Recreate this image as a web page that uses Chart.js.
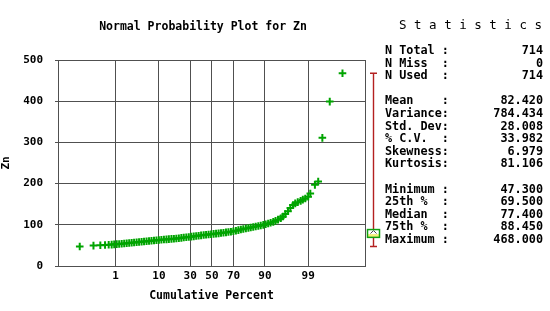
<!DOCTYPE html>
<html>
<head>
<meta charset="utf-8">
<script src="https://cdn.jsdelivr.net/npm/chart.js@4.4.0/dist/chart.umd.min.js"></script>
<style>
  body {margin: 0; background: #fff}
  #wrap {position: relative; width: 550px; height: 311px; overflow: hidden}
  #plot {position: absolute; left: 0; top: 0}
  .txt {position: absolute; font-family: 'DejaVu Sans Mono', monospace; color: #000; white-space: pre; line-height: 14px}
  #title {left: 0; top: 19px; width: 406px; text-align: center; font-size: 11.5px; font-weight: bold}
  #statsTitle {left: 399px; top: 18px; font-size: 12.5px}
  .lab {left: 385px; font-size: 11.8px; font-weight: bold}
  .val {right: 7px; font-size: 11.8px; font-weight: bold; text-align: right}
</style>
</head>
<body>
<div id="wrap">
  <canvas id="plot" width="550" height="311"></canvas>
  <div id="title" class="txt">Normal Probability Plot for Zn</div>
  <div id="statsTitle" class="txt">S t a t i s t i c s</div>
</div>
<script>
// cumulative percent (plotting position) and Zn value
const cumPercent = [0.07, 0.21, 0.35, 0.49, 0.63, 0.77, 0.91, 1.07, 1.25, 1.46, 1.70, 1.97, 2.28, 2.62, 3.0, 3.44,
  3.92, 4.46, 5.05, 5.71, 6.43, 7.21, 8.08, 9.01, 10.0, 11.1, 12.3, 13.6, 14.9, 16.4, 17.9, 19.5, 21.2, 23.0,
  24.8, 26.8, 28.8, 30.9, 33.0, 35.2, 37.4, 39.7, 42.1, 44.4, 46.8, 49.2, 51.6, 54.0, 56.4, 58.7, 61.0, 63.3,
  65.5, 67.7, 69.8, 71.9, 73.9, 75.8, 77.6, 79.4, 81.1, 82.6, 84.1, 85.5, 86.9, 88.1, 89.3, 90.3, 91.3, 92.2,
  93.1, 93.8, 94.5, 95.2, 95.7, 96.2, 96.7, 97.1, 97.5, 97.8, 98.1, 98.4, 98.6, 98.8, 99.0, 99.13, 99.36,
  99.49, 99.62, 99.78, 99.92]
const znValues = [47.3, 49.5, 50.3, 51, 51.5, 52, 52.5, 53, 53.5, 54, 54.7, 55.3, 56, 56.6, 57.2, 57.8,
  58.4, 59, 59.6, 60.2, 60.8, 61.4, 62, 62.6, 63.2, 63.7, 64.2, 64.7, 65.2, 65.8, 66.3, 66.9, 67.5, 68.2,
  69, 69.8, 70.5, 71.2, 72, 72.8, 73.6, 74.4, 75.2, 75.9, 76.6, 77.2, 77.9, 78.6, 79.3, 80, 80.8, 81.6,
  82.4, 83.3, 84.2, 85.5, 87, 88.6, 89.8, 91, 92.2, 93.4, 94.6, 95.8, 97, 98.3, 99.7, 101.3, 103, 105,
  107.2, 109.6, 112.5, 116, 120, 126, 133, 141, 148, 152, 155, 158, 161, 164, 168, 176, 197,
  205, 311, 399, 468]

const percentTicks = [1, 10, 30, 50, 70, 90, 99]
const yTicks = [0, 100, 200, 300, 400, 500]

const statLabels = ['N Total :', 'N Miss  :', 'N Used  :', '', 'Mean    :', 'Variance:', 'Std. Dev:', '% C.V.  :',
  'Skewness:', 'Kurtosis:', '', 'Minimum :', '25th %  :', 'Median  :', '75th %  :', 'Maximum :']
const statValues = ['714', '0', '714', '', '82.420', '784.434', '28.008', '33.982',
  '6.979', '81.106', '', '47.300', '69.500', '77.400', '88.450', '468.000']

// inverse normal cdf (Acklam)
function probit(p) {
  const a = [-39.69683028665376, 220.9460984245205, -275.9285104469687, 138.3577518672690, -30.66479806614716, 2.506628277459239]
  const b = [-54.47609879822406, 161.5858368580409, -155.6989798598866, 66.80131188771972, -13.28068155288572]
  const c = [-0.007784894002430293, -0.3223964580411365, -2.400758277161838, -2.549732539343734, 4.374664141464968, 2.938163982698783]
  const d = [0.007784695709041462, 0.3224671290700398, 2.445134137142996, 3.754408661907416]
  const tail = (q) => (((((c[0]*q+c[1])*q+c[2])*q+c[3])*q+c[4])*q+c[5]) / ((((d[0]*q+d[1])*q+d[2])*q+d[3])*q+1)
  if (p < 0.02425) return tail(Math.sqrt(-2 * Math.log(p)))
  if (p > 1 - 0.02425) return -tail(Math.sqrt(-2 * Math.log(1 - p)))
  const q = p - 0.5, r = q * q
  return (((((a[0]*r+a[1])*r+a[2])*r+a[3])*r+a[4])*r+a[5])*q / (((((b[0]*r+b[1])*r+b[2])*r+b[3])*r+b[4])*r+1)
}

const stat = (name) => parseFloat(statValues[statLabels.findIndex(l => l.startsWith(name))])

// stats panel text
const wrap = document.getElementById('wrap')
let rowY = 43
statLabels.forEach((lab, i) => {
  if (lab) {
    const l = document.createElement('div')
    l.className = 'txt lab'
    l.style.top = rowY + 'px'
    l.textContent = lab
    wrap.appendChild(l)
    const v = document.createElement('div')
    v.className = 'txt val'
    v.style.top = rowY + 'px'
    v.textContent = statValues[i]
    wrap.appendChild(v)
  }
  rowY += 12.6
})

const frameAndBox = {
  id: 'frameAndBox',
  afterDraw(chart) {
    const {ctx, chartArea: ca} = chart
    const y = chart.scales.y
    ctx.save()
    ctx.strokeStyle = '#505050'
    ctx.lineWidth = 1
    ctx.strokeRect(Math.round(ca.left) + 0.5, Math.round(ca.top) + 0.5, Math.round(ca.right - ca.left), Math.round(ca.bottom - ca.top))

    // box plot to the right of the plot
    const cx = Math.round(ca.right) + 8.5
    const yMax = y.getPixelForValue(stat('Maximum'))
    const yMin = y.getPixelForValue(stat('Minimum'))
    const yQ1 = y.getPixelForValue(stat('25th'))
    const yQ3 = y.getPixelForValue(stat('75th'))
    const yMed = y.getPixelForValue(stat('Median'))
    const yMean = y.getPixelForValue(stat('Mean'))
    ctx.strokeStyle = '#b42020'
    ctx.lineWidth = 1.4
    ctx.beginPath()
    ctx.moveTo(cx, yMax); ctx.lineTo(cx, yQ3)
    ctx.moveTo(cx, yQ1); ctx.lineTo(cx, yMin)
    ctx.moveTo(cx - 3.5, yMax); ctx.lineTo(cx + 3.5, yMax)
    ctx.moveTo(cx - 3.5, yMin); ctx.lineTo(cx + 3.5, yMin)
    ctx.stroke()
    ctx.fillStyle = '#fff'
    ctx.fillRect(cx - 6, yQ3, 12, yQ1 - yQ3)
    ctx.fillStyle = '#f4f07a'
    ctx.fillRect(cx - 6, yMed, 12, yQ1 - yMed)
    ctx.strokeStyle = '#444'
    ctx.lineWidth = 1
    ctx.beginPath()
    ctx.moveTo(cx - 3, yMean + 1.5); ctx.lineTo(cx, yMean - 1.5); ctx.lineTo(cx + 3, yMean + 1.5)
    ctx.stroke()
    ctx.strokeStyle = '#10a010'
    ctx.lineWidth = 1.5
    ctx.strokeRect(cx - 6, yQ3, 12, yQ1 - yQ3)
    ctx.restore()
  }
}

Chart.defaults.font.family = "'DejaVu Sans Mono', monospace"
Chart.defaults.font.size = 11
Chart.defaults.font.weight = 'bold'
Chart.defaults.color = '#000'

new Chart(document.getElementById('plot').getContext('2d'), {
  type: 'scatter',
  data: {
    datasets: [{
      data: cumPercent.map((p, i) => ({x: probit(p / 100), y: znValues[i]})),
      pointStyle: 'cross',
      pointRadius: 3.8,
      pointBorderWidth: 2,
      borderColor: '#00a400',
      backgroundColor: '#00a400'
    }]
  },
  options: {
    responsive: false,
    animation: false,
    events: [],
    layout: {padding: {top: 60, right: 185, left: 0, bottom: 0}},
    plugins: {legend: {display: false}, tooltip: {enabled: false}},
    scales: {
      x: {
        type: 'linear',
        min: -3.72,
        max: 3.70,
        afterBuildTicks: (scale) => { scale.ticks = percentTicks.map(p => ({value: probit(p / 100)})) },
        afterFit: (scale) => { scale.height = 45 },
        ticks: {
          autoSkip: false,
          maxRotation: 0,
          padding: 4,
          callback: (v, i) => String(percentTicks[i])
        },
        grid: {color: '#505050', drawTicks: false},
        border: {color: '#505050'},
        title: {display: true, text: 'Cumulative Percent', font: {size: 11.5, weight: 'bold'}, padding: {top: 0, bottom: 8}}
      },
      y: {
        min: 0,
        max: 500,
        afterBuildTicks: (scale) => { scale.ticks = yTicks.map(v => ({value: v})) },
        afterFit: (scale) => { scale.width = 58 },
        ticks: {padding: 12},
        grid: {color: '#505050', tickLength: 3},
        border: {color: '#505050'},
        title: {display: true, text: 'Zn', font: {size: 11, weight: 'bold'}, padding: {top: 0, bottom: 0}}
      }
    }
  },
  plugins: [frameAndBox]
})
</script>
</body>
</html>
